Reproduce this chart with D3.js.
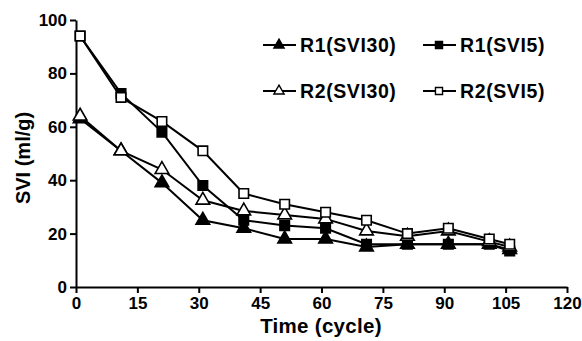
<!DOCTYPE html>
<html><head><meta charset="utf-8">
<script src="https://cdn.jsdelivr.net/npm/d3@7"></script>
<style>body{margin:0;background:#fff;} svg{display:block;font-family:Arial,"Liberation Sans",sans-serif;font-weight:bold;}</style>
</head><body><svg id="c" width="582" height="341"></svg>
<script>
const cycles = [1, 11, 21, 31, 41, 51, 61, 71, 81, 91, 101, 106];
const r1svi30 = [63, 51, 39, 25, 22, 18, 18, 15, 16, 16, 16, 14];
const r1svi5  = [94, 72.5, 58, 38, 25, 23, 22, 16, 16, 16, 16, 13.5];
const r2svi30 = [64, 51, 44, 32.5, 28.5, 27, 25.5, 21, 19, 21, 17, 15];
const r2svi5  = [94, 71, 62, 51, 35, 31, 28, 25, 20, 22, 18, 16];
const xTicks = [0, 15, 30, 45, 60, 75, 90, 105, 120];
const yTicks = [0, 20, 40, 60, 80, 100];
const seriesNames = ["R1(SVI30)", "R1(SVI5)", "R2(SVI30)", "R2(SVI5)"];

const series = [
  {name: seriesNames[0], vals: r1svi30, shape: "tri", fill: "#000"},
  {name: seriesNames[1], vals: r1svi5, shape: "sq", fill: "#000"},
  {name: seriesNames[2], vals: r2svi30, shape: "tri", fill: "#fff"},
  {name: seriesNames[3], vals: r2svi5, shape: "sq", fill: "#fff"}
];

const svg = d3.select("#c");
const x = d3.scaleLinear().domain([0, 120]).range([76, 567]);
const y = d3.scaleLinear().domain([0, 100]).range([287, 20]);

const xAxis = svg.append("g").attr("transform", "translate(0,287)")
  .call(d3.axisBottom(x).tickValues(xTicks).tickSize(6).tickPadding(4).tickSizeOuter(0));
const yAxis = svg.append("g").attr("transform", "translate(76,0)")
  .call(d3.axisLeft(y).tickValues(yTicks).tickSize(6).tickPadding(3).tickSizeOuter(0));
[xAxis, yAxis].forEach(a => {
  a.select(".domain").attr("stroke", "#000").attr("stroke-width", 2);
  a.selectAll(".tick line").attr("stroke", "#000").attr("stroke-width", 2);
  a.selectAll(".tick text").attr("fill", "#000").style("font-size", "17px").style("font-weight", "bold").style("font-family", "Arial, 'Liberation Sans', sans-serif");
});

svg.append("text").attr("x", 321).attr("y", 333).attr("text-anchor", "middle")
  .style("font-size", "20.5px").style("letter-spacing", "0.3px").text("Time (cycle)");
svg.append("text").attr("transform", "translate(30,158) rotate(-90)").attr("text-anchor", "middle")
  .style("font-size", "20px").text("SVI (ml/g)");

const line = d3.line().x((d, i) => x(cycles[i])).y(d => y(d));
const triPath = d3.symbol().type(d3.symbolTriangle).size(80)();
const sqPath = d3.symbol().type(d3.symbolSquare).size(90)();

function marker(g, shape, fill, cx, cy) {
  g.append("path").attr("d", shape === "tri" ? triPath : sqPath)
    .attr("transform", `translate(${cx},${cy})`)
    .attr("fill", fill).attr("stroke", "#000").attr("stroke-width", 1.6);
}

const plot = svg.append("g");
series.forEach(s => {
  plot.append("path").datum(s.vals).attr("d", line)
    .attr("fill", "none").attr("stroke", "#000").attr("stroke-width", 2);
});
series.forEach(s => {
  s.vals.forEach((v, i) => marker(plot, s.shape, s.fill, x(cycles[i]), y(v)));
});

// legend
const leg = [
  {s: series[0], lx: 263, ty: 45},
  {s: series[1], lx: 423, ty: 45},
  {s: series[2], lx: 263, ty: 91},
  {s: series[3], lx: 423, ty: 91}
];
leg.forEach(l => {
  const g = svg.append("g");
  g.append("line").attr("x1", l.lx).attr("x2", l.lx + 33).attr("y1", l.ty).attr("y2", l.ty)
    .attr("stroke", "#000").attr("stroke-width", 2);
  const sz = l.s.shape === "tri" ? d3.symbol().type(d3.symbolTriangle).size(45)() : d3.symbol().type(d3.symbolSquare).size(50)();
  g.append("path").attr("d", sz).attr("transform", `translate(${l.lx + 16},${l.ty})`)
    .attr("fill", l.s.fill).attr("stroke", "#000").attr("stroke-width", 1.4);
  g.append("text").attr("x", l.lx + 37).attr("y", l.ty).attr("dy", "0.35em")
    .style("font-size", "19.5px").style("letter-spacing", "0.6px").text(l.s.name);
});
</script></body></html>
